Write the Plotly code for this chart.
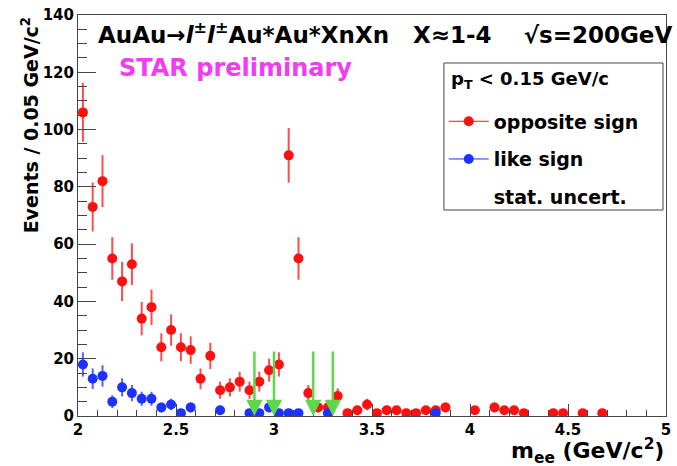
import numpy as np
import plotly.graph_objects as go

# Dielectron invariant-mass spectrum, 0.05 GeV/c^2 bins (bin centres)
os_mass = [2.025, 2.075, 2.125, 2.175, 2.225, 2.275, 2.325, 2.375, 2.425, 2.475,
           2.525, 2.575, 2.625, 2.675, 2.725, 2.775, 2.825, 2.875, 2.925, 2.975,
           3.025, 3.075, 3.125, 3.175, 3.225, 3.275, 3.325, 3.375, 3.425, 3.475,
           3.525, 3.575, 3.625, 3.675, 3.725, 3.775, 3.825, 3.875, 4.025, 4.125,
           4.175, 4.225, 4.275, 4.425, 4.475, 4.575, 4.675]
os_counts = [106, 73, 82, 55, 47, 53, 34, 38, 24, 30,
             24, 23, 13, 21, 9, 10, 12, 9, 12, 16,
             18, 91, 55, 8, 3, 3, 7, 1, 2, 4,
             1, 2, 2, 1, 1, 2, 2, 3, 2, 3,
             2, 2, 1, 1, 1, 1, 1]

ls_mass = [2.025, 2.075, 2.125, 2.175, 2.225, 2.275, 2.325, 2.375, 2.425, 2.475,
           2.525, 2.575, 2.725, 2.875, 2.925, 2.975, 3.025, 3.075, 3.125, 3.275,
           3.825]
ls_counts = [18, 13, 14, 5, 10, 8, 6, 6, 3, 4,
             1, 3, 2, 1, 1, 3, 1, 1, 1, 1,
             1]

# J/psi mass-window boundaries marked with arrows
window_edges = [2.9, 3.0, 3.2, 3.3]
arrow_top = 23

x_range = [2, 5]
y_range = [0, 140]

RED = "#ff1010"
BLUE = "#1e32ff"
GREEN = "#5ed84a"
MAGENTA = "#f23cf2"
AXIS = "#444444"
FONT = "DejaVu Sans"

os_err = np.sqrt(np.array(os_counts, dtype=float))
ls_err = np.sqrt(np.array(ls_counts, dtype=float))

fig = go.Figure()

fig.add_trace(go.Scatter(
    x=os_mass, y=os_counts, mode="markers",
    marker=dict(color=RED, size=10),
    error_y=dict(type="data", array=os_err, color="rgba(255,30,30,0.8)", thickness=2, width=0),
    showlegend=False,
))
fig.add_trace(go.Scatter(
    x=ls_mass, y=ls_counts, mode="markers",
    marker=dict(color=BLUE, size=10),
    error_y=dict(type="data", array=ls_err, color="rgba(40,60,255,0.8)", thickness=2, width=0),
    showlegend=False,
))

# legend entries
fig.add_trace(go.Scatter(
    x=[None], y=[None], mode="lines+markers", name="opposite sign",
    line=dict(color=RED, width=1), marker=dict(color=RED, size=10),
    legendgroup="a",
))
fig.add_trace(go.Scatter(
    x=[None], y=[None], mode="lines+markers", name="like sign",
    line=dict(color=BLUE, width=1), marker=dict(color=BLUE, size=10),
    legendgroup="b",
))
fig.add_trace(go.Scatter(
    x=[None], y=[None], mode="markers", name="stat. uncert.",
    marker=dict(color="rgba(0,0,0,0)", size=10),
    legendgroup="c",
))

annotations = []
for xe in window_edges:
    annotations.append(dict(
        x=xe, y=0, ax=xe, ay=arrow_top, xref="x", yref="y", axref="x", ayref="y",
        text="", showarrow=True, arrowhead=2, arrowsize=1.3, arrowwidth=2.5,
        arrowcolor=GREEN, standoff=0,
    ))

SP = "\u00a0"
annotations += [
    dict(
        text=("AuAu\u2192<i>l</i><sup>\u00b1</sup><i>l</i><sup>\u00b1</sup>Au*Au*XnXn"
              + SP * 3 + "X\u22481-4" + SP * 4 + "\u221as=200GeV"),
        xref="paper", yref="paper", x=0.031, y=0.955, xanchor="left", yanchor="middle",
        showarrow=False, font=dict(family=FONT, size=23, color="black", weight="bold"),
    ),
    dict(
        text="STAR preliminary",
        xref="paper", yref="paper", x=0.067, y=0.868, xanchor="left", yanchor="middle",
        showarrow=False, font=dict(family=FONT, size=24, color=MAGENTA, weight="bold"),
    ),
    dict(
        text="Events / 0.05 GeV/c<sup>2</sup>",
        xref="paper", yref="paper", x=-0.081, y=1.0, xanchor="center", yanchor="top",
        textangle=-90, showarrow=False,
        font=dict(family=FONT, size=19, color="black", weight="bold"),
    ),
    dict(
        text="m<sub>ee</sub> (GeV/c<sup>2</sup>)",
        xref="paper", yref="paper", x=1.0, y=-0.088, xanchor="right", yanchor="middle",
        showarrow=False, font=dict(family=FONT, size=22, color="black", weight="bold"),
    ),
    # legend header
    dict(
        text="p<sub>T</sub> < 0.15 GeV/c",
        xref="paper", yref="paper", x=0.631, y=0.838, xanchor="left", yanchor="middle",
        showarrow=False, font=dict(family=FONT, size=18, color="black", weight="bold"),
    ),
]

# legend frame
shapes = [dict(
    type="rect", xref="paper", yref="paper", x0=0.6223, x1=0.9949, y0=0.5137, y1=0.8803,
    line=dict(color=AXIS, width=1), fillcolor="white", layer="above",
)]

fig.update_layout(
    width=677, height=466,
    margin=dict(l=78, r=6, t=15, b=50),
    paper_bgcolor="white", plot_bgcolor="white",
    font=dict(family=FONT, color="black"),
    annotations=annotations,
    shapes=shapes,
    legend=dict(
        x=0.622, y=0.782, xanchor="left", yanchor="top",
        bgcolor="rgba(0,0,0,0)", borderwidth=0,
        font=dict(family=FONT, size=19, color="black", weight="bold"),
        tracegroupgap=10, itemwidth=40,
    ),
    xaxis=dict(
        range=x_range, dtick=0.5, tick0=2, showgrid=False, zeroline=False,
        showline=True, linecolor=AXIS, linewidth=1, mirror=True,
        ticks="inside", ticklen=12, tickcolor=AXIS,
        tickfont=dict(family=FONT, size=15, color="black", weight="bold"),
        minor=dict(dtick=0.1, ticks="inside", ticklen=6, tickcolor=AXIS, showgrid=False),
    ),
    yaxis=dict(
        range=y_range, dtick=20, showgrid=False, zeroline=False,
        showline=True, linecolor=AXIS, linewidth=1, mirror=True,
        ticks="inside", ticklen=18, tickcolor=AXIS,
        tickfont=dict(family=FONT, size=15, color="black", weight="bold"),
        minor=dict(dtick=5, ticks="inside", ticklen=9, tickcolor=AXIS, showgrid=False),
    ),
)

fig.write_html("out.html")
